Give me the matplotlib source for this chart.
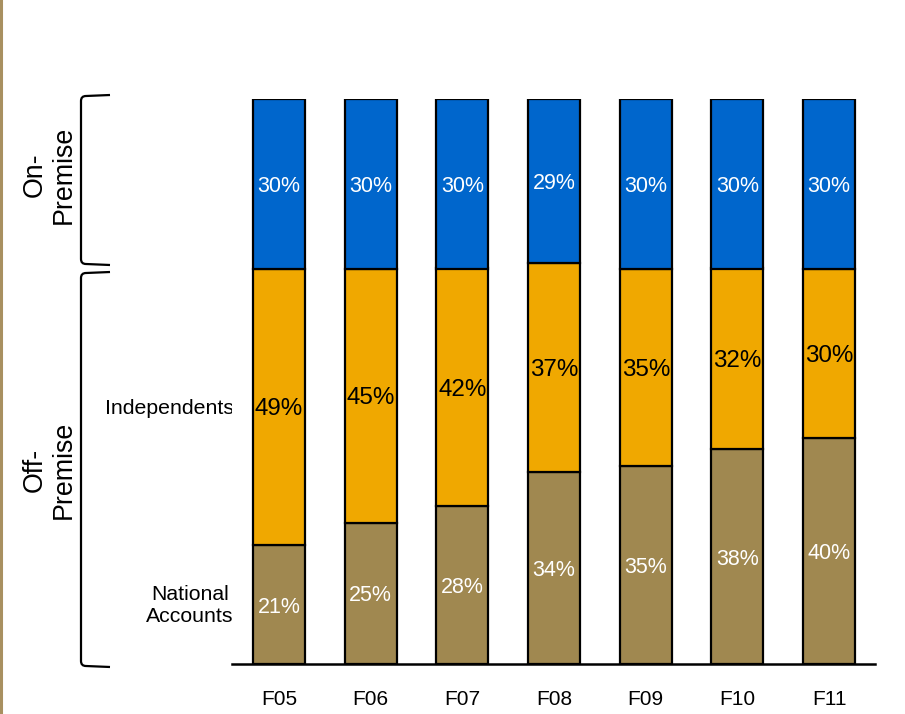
import matplotlib
matplotlib.use("Agg")
import matplotlib.pyplot as plt
from matplotlib.path import Path
from matplotlib.patches import PathPatch
import numpy as np

plt.rcParams['font.family'] = ['Liberation Sans', 'DejaVu Sans']

years = ["F05", "F06", "F07", "F08", "F09", "F10", "F11"]
national_accounts = [21, 25, 28, 34, 35, 38, 40]
independents = [49, 45, 42, 37, 35, 32, 30]
on_premise = [30, 30, 30, 29, 30, 30, 30]

c_nat = "#A08850"
c_ind = "#F0A800"
c_on = "#0066CC"

W, H = 905, 714
fig = plt.figure(figsize=(W / 100, H / 100), dpi=100)

# main axes: x from 232px to 875px, y from 664px (0%) to 99px (100%)
ax = fig.add_axes([232 / W, (H - 664) / H, (875 - 232) / W, (664 - 99) / H])
x = np.arange(len(years))
bw = 0.567
edge = dict(edgecolor="black", linewidth=1.6)
ax.bar(x, national_accounts, bw, color=c_nat, **edge)
bot2 = np.array(national_accounts)
ax.bar(x, independents, bw, bottom=bot2, color=c_ind, **edge)
bot3 = bot2 + np.array(independents)
ax.bar(x, on_premise, bw, bottom=bot3, color=c_on, **edge)

for i in range(len(years)):
    ax.text(x[i], national_accounts[i] / 2, f"{national_accounts[i]}%",
            ha="center", va="center_baseline", color="white", fontsize=15.5)
    ax.text(x[i], bot2[i] + independents[i] / 2, f"{independents[i]}%",
            ha="center", va="center_baseline", color="black", fontsize=17.4)
    ax.text(x[i], bot3[i] + on_premise[i] / 2, f"{on_premise[i]}%",
            ha="center", va="center_baseline", color="white", fontsize=15.5)

ax.set_xlim(-0.513, 6.50)
ax.set_ylim(0, 100)
ax.set_xticks(x)
ax.set_xticklabels(years, fontsize=15)
ax.set_yticks([])
ax.tick_params(axis="x", length=0, pad=19)
for s in ["top", "right", "left"]:
    ax.spines[s].set_visible(False)
ax.spines["bottom"].set_linewidth(1.8)

# overlay in pixel coordinates for side annotations
ov = fig.add_axes([0, 0, 1, 1], zorder=-1)
ov.set_xlim(0, W)
ov.set_ylim(H, 0)
ov.axis("off")

# thin left border
ov.plot([1, 1], [0, H], color="#A89060", linewidth=2.2)


def draw_bracket(y0, y1, xv=81, xe=110, r=5):
    verts = [(xe, y0), (xv + r, y0 + 1), (xv, y0 + 1), (xv, y0 + r + 1),
             (xv, y1 - r - 1), (xv, y1 - 1), (xv + r, y1 - 1), (xe, y1)]
    codes = [Path.MOVETO, Path.LINETO, Path.CURVE3, Path.CURVE3,
             Path.LINETO, Path.CURVE3, Path.CURVE3, Path.LINETO]
    ov.add_patch(PathPatch(Path(verts, codes), facecolor="none",
                           edgecolor="black", linewidth=1.6))


draw_bracket(95, 265)
draw_bracket(272, 667)

ov.text(49, 175, "On-\nPremise", rotation=90, ha="center", va="center",
        fontsize=19.3, linespacing=1.16)
ov.text(49, 470, "Off-\nPremise", rotation=90, ha="center", va="center",
        fontsize=19.3, linespacing=1.16)
ov.text(234, 407, "Independents", ha="right", va="center_baseline", fontsize=15.3)
ov.text(190, 606, "National\nAccounts", ha="center", va="center",
        fontsize=15.3, linespacing=1.2)

fig.savefig("out.png", dpi=100)
